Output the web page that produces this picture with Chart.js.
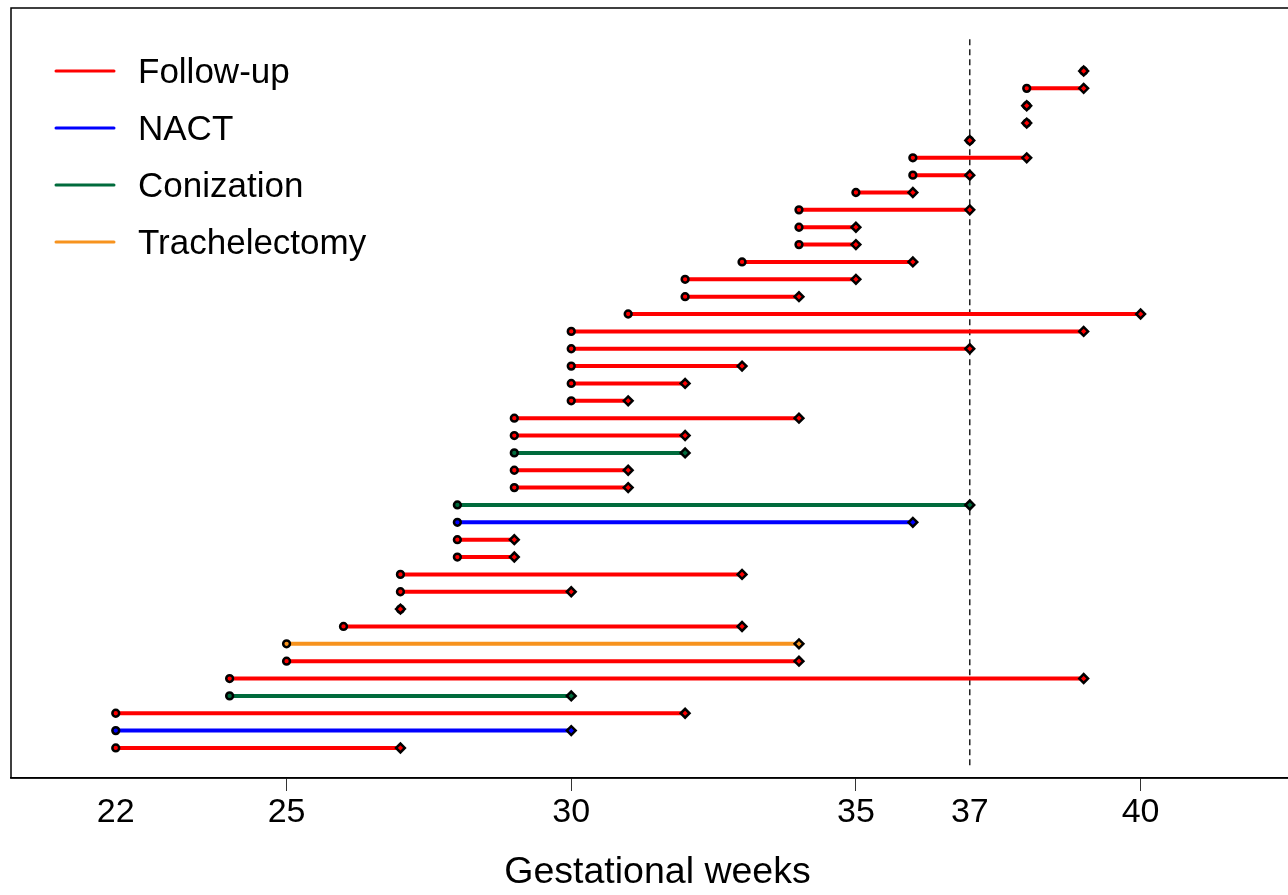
<!DOCTYPE html>
<html>
<head>
<meta charset="utf-8">
<script src="https://cdn.jsdelivr.net/npm/chart.js@4.4.1/dist/chart.umd.min.js"></script>
<style>
  html, body { margin: 0; padding: 0; background: #fff; overflow: hidden; }
  #wrap { width: 1304px; height: 895px; }
</style>
</head>
<body>
<div id="wrap"><canvas id="chart"></canvas></div>
<script>
// Patients listed bottom (1) to top (40)
const patientRows = [1, 2, 3, 4, 5, 6, 7, 8, 9, 10, 11, 12, 13, 14, 15, 16, 17, 18, 19, 20,
                     21, 22, 23, 24, 25, 26, 27, 28, 29, 30, 31, 32, 33, 34, 35, 36, 37, 38, 39, 40];
const startWeeks = [22, 22, 22, 24, 24, 25, 25, 26, 27, 27, 27, 28, 28, 28, 28, 29, 29, 29, 29, 29,
                    30, 30, 30, 30, 30, 31, 32, 32, 33, 34, 34, 34, 35, 36, 36, 37, 38, 38, 38, 39];
const endWeeks = [27, 30, 32, 30, 39, 34, 34, 33, 27, 30, 33, 29, 29, 36, 37, 31, 31, 32, 32, 34,
                  31, 32, 33, 37, 39, 40, 34, 35, 36, 35, 35, 37, 36, 37, 38, 37, 38, 38, 39, 39];
const treatments = ['Follow-up', 'NACT', 'Follow-up', 'Conization', 'Follow-up', 'Follow-up', 'Trachelectomy',
                    'Follow-up', 'Follow-up', 'Follow-up', 'Follow-up', 'Follow-up', 'Follow-up', 'NACT',
                    'Conization', 'Follow-up', 'Follow-up', 'Conization', 'Follow-up', 'Follow-up',
                    'Follow-up', 'Follow-up', 'Follow-up', 'Follow-up', 'Follow-up', 'Follow-up', 'Follow-up',
                    'Follow-up', 'Follow-up', 'Follow-up', 'Follow-up', 'Follow-up', 'Follow-up', 'Follow-up',
                    'Follow-up', 'Follow-up', 'Follow-up', 'Follow-up', 'Follow-up', 'Follow-up'];

const legendLabels = ['Follow-up', 'NACT', 'Conization', 'Trachelectomy'];
const tickValues = [22, 25, 30, 35, 37, 40];
const majorTicks = [25, 30, 35, 40];
const termWeek = 37;
const termLineRange = [0, 42];

const colors = {
    'Follow-up': '#ff0000',
    'NACT': '#0000ff',
    'Conization': '#006b3c',
    'Trachelectomy': '#f7931e'
};

const FONT = '"Liberation Sans", Arial, sans-serif';

const datasets = patientRows.map((row, i) => {
    const col = colors[treatments[i]];
    return {
        data: [{x: startWeeks[i], y: row}, {x: endWeeks[i], y: row}],
        borderColor: col,
        borderWidth: 4,
        borderCapStyle: 'round',
        pointStyle: ['circle', 'rectRot'],
        pointRadius: [3.4, 4.4],
        pointBackgroundColor: col,
        pointBorderColor: '#000',
        pointBorderWidth: 2.5,
        order: 1
    };
});

// dashed line at term (37 weeks)
datasets.push({
    data: [{x: termWeek, y: termLineRange[0]}, {x: termWeek, y: termLineRange[1]}],
    borderColor: '#000',
    borderWidth: 1.3,
    borderDash: [6, 4],
    pointRadius: 0,
    order: 10
});

const framePlugin = {
    id: 'frame',
    beforeDatasetsDraw(chart) {
        const {ctx, chartArea: a} = chart;
        ctx.save();
        ctx.strokeStyle = '#000';
        ctx.lineWidth = 1.5;
        ctx.strokeRect(a.left, a.top, a.right - a.left, a.bottom - a.top);
        ctx.restore();
    }
};

const legendPlugin = {
    id: 'insideLegend',
    afterDatasetsDraw(chart) {
        const ctx = chart.ctx;
        ctx.save();
        legendLabels.forEach((lab, i) => {
            const y = 71 + i * 57;
            ctx.strokeStyle = colors[lab];
            ctx.lineWidth = 3;
            ctx.lineCap = 'round';
            ctx.beginPath();
            ctx.moveTo(56, y);
            ctx.lineTo(114, y);
            ctx.stroke();
            ctx.fillStyle = '#000';
            ctx.font = '35px ' + FONT;
            ctx.textBaseline = 'middle';
            ctx.textAlign = 'left';
            ctx.fillText(lab, 138, y + 2);
        });
        ctx.restore();
    }
};

new Chart(document.getElementById('chart'), {
    type: 'line',
    data: {datasets},
    plugins: [framePlugin, legendPlugin],
    options: {
        animation: false,
        responsive: true,
        maintainAspectRatio: false,
        layout: {autoPadding: false, padding: {left: 11, top: 8, right: 0, bottom: 0}},
        plugins: {legend: {display: false}, tooltip: {enabled: false}},
        scales: {
            x: {
                type: 'linear',
                min: 20.16,
                max: 42.87,
                afterBuildTicks: (scale) => {
                    scale.ticks = tickValues.map(v => ({value: v}));
                },
                afterFit: (scale) => { scale.height = 117; },
                border: {display: true, color: '#000', width: 1.5},
                grid: {
                    drawOnChartArea: false,
                    drawTicks: true,
                    tickLength: 13,
                    tickWidth: 1,
                    tickColor: (c) => majorTicks.includes(c.tick && c.tick.value) ? '#333' : 'rgba(0,0,0,0)'
                },
                ticks: {
                    color: '#000',
                    padding: 1,
                    maxRotation: 0,
                    autoSkip: false,
                    font: {family: FONT, size: 34},
                    callback: (v) => String(v)
                },
                title: {
                    display: true,
                    text: 'Gestational weeks',
                    color: '#000',
                    font: {family: FONT, size: 37.5},
                    padding: {top: 0, bottom: 0}
                }
            },
            y: {
                type: 'linear',
                display: false,
                min: -0.73,
                max: 43.63
            }
        }
    }
});
</script>
</body>
</html>
